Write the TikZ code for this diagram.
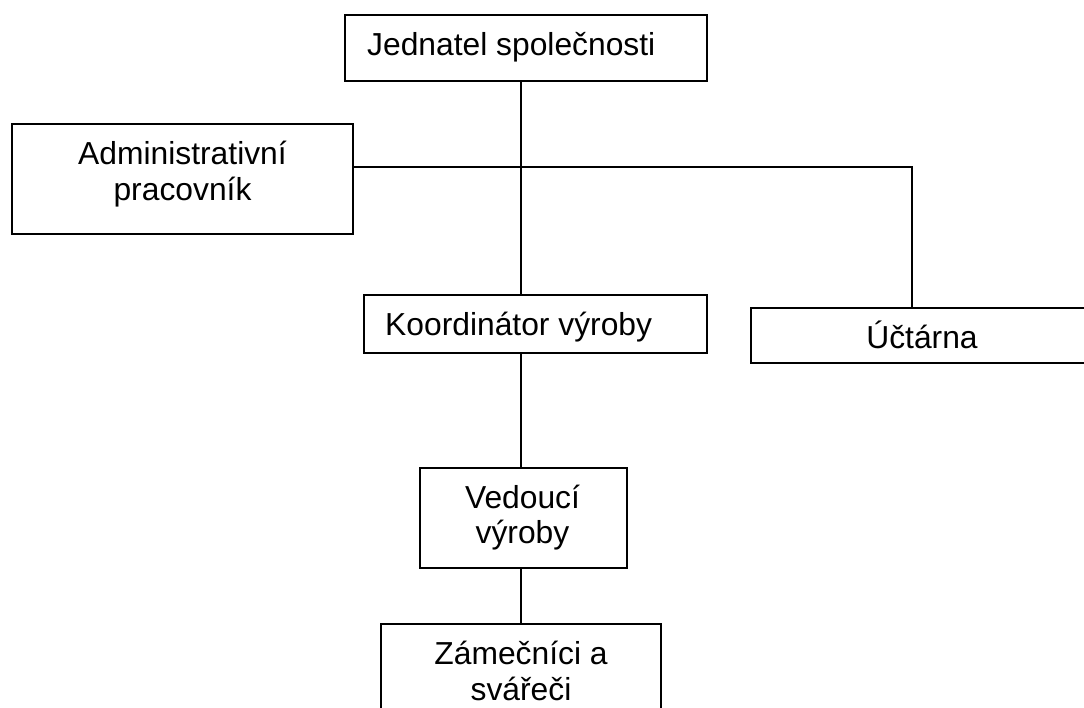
\documentclass[tikz,border=0pt]{standalone}
\usepackage{fontspec}
\setmainfont{Liberation Sans}
\begin{document}
\begin{tikzpicture}[x=1pt,y=-1pt,
  orgbox/.style={draw,line width=1.9pt,rectangle,inner sep=0pt},
  lbl/.style={inner sep=0pt,anchor=base,font=\fontsize{31.8}{36}\selectfont},
  lblw/.style={inner sep=0pt,anchor=base west,font=\fontsize{31.8}{36}\selectfont},
  link/.style={line width=1.9pt}]
  \useasboundingbox (0,0) rectangle (1084,707);
  \clip (0,0) rectangle (1084,707);
  \fill[white] (0,0) rectangle (1084,707);

  % boxes
  \node[orgbox,minimum width=362pt,minimum height=66pt] (jed) at (526,48) {};
  \node[orgbox,minimum width=341pt,minimum height=110pt] (adm) at (182.5,179) {};
  \node[orgbox,minimum width=343pt,minimum height=58pt] (koo) at (535.5,324) {};
  \node[orgbox,minimum width=342pt,minimum height=55pt] (uct) at (922,335.5) {};
  \node[orgbox,minimum width=207pt,minimum height=100pt] (ved) at (523.5,518) {};
  \node[orgbox,minimum width=280pt,minimum height=116pt] (zam) at (521,682) {};

  % labels
  \node[lblw] (tjed) at (367,55) {Jednatel společnosti};
  \node[lbl] (tadm1) at (182.5,164) {Administrativní};
  \node[lbl] (tadm2) at (182.5,200) {pracovník};
  \node[lblw] (tkoo) at (385,335) {Koordinátor výroby};
  \node[lbl] (tuct) at (922,348) {Účtárna};
  \node[lbl] (tved1) at (522.5,508) {Vedoucí};
  \node[lbl] (tved2) at (522.5,543) {výroby};
  \node[lbl] (tzam1) at (521,664) {Zámečníci a};
  \node[lbl] (tzam2) at (521,700) {svářeči};

  % connectors
  \coordinate (trunk) at (521,0);
  \coordinate (bend) at (912,167);
  \draw[link] (trunk |- jed.south) -- (trunk |- koo.north);
  \draw[link] (bend -| adm.east) -- (bend) -- (bend |- uct.north);
  \draw[link] (trunk |- koo.south) -- (trunk |- ved.north);
  \draw[link] (trunk |- ved.south) -- (trunk |- zam.north);
\end{tikzpicture}
\end{document}
